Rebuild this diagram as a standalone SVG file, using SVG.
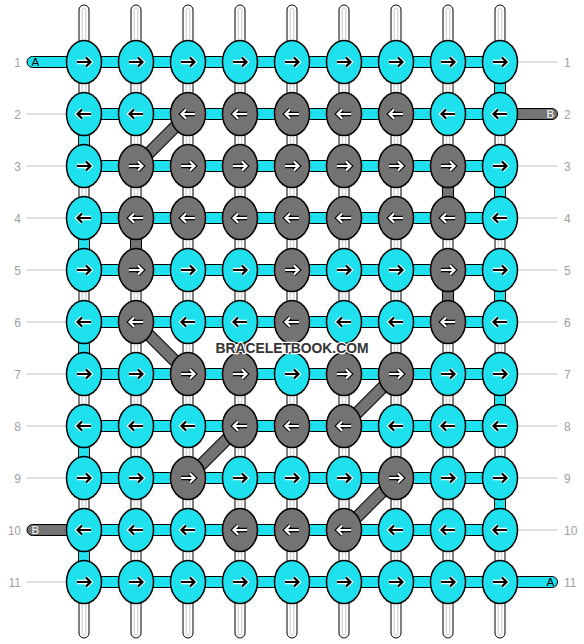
<svg xmlns="http://www.w3.org/2000/svg" xmlns:xlink="http://www.w3.org/1999/xlink" width="584" height="644" viewBox="0 0 584 644">
<style>
.rod{fill:#fff;stroke:#000;stroke-width:1}
.rodi{fill:none;stroke:#c8c8c8;stroke-width:1}
.hb{fill:#1ee1ed;stroke:#000;stroke-width:1}
.vc{fill:#1ee1ed;stroke:#000;stroke-width:1}
.vg{fill:#737373;stroke:#000;stroke-width:1}
.dgo{stroke:#000;stroke-width:12.5;fill:none}
.dgi{stroke:#737373;stroke-width:10.5;fill:none}
.kc{fill:#1ee1ed;stroke:#000;stroke-width:1.5}
.kg{fill:#737373;stroke:#000;stroke-width:1.5}
.lbl{font-family:"Liberation Sans",Arial,sans-serif;font-size:12px;fill:#a0a0a0}
.ln{stroke:#c4c4c4;stroke-width:1}
.tl{font-family:"Liberation Sans",Arial,sans-serif;font-size:11.5px}
.wm{font-family:"Liberation Sans",Arial,sans-serif;font-size:15px;font-weight:bold;fill:#333;stroke:#fff;stroke-width:2.5;paint-order:stroke;stroke-linejoin:round}
</style>
<defs>
<g id="rb"><path d="M-7,0H6M2,-4.5L6.5,0L2,4.5" fill="none" stroke="#fff" stroke-width="4.4"/><path d="M-7,0H6M2,-4.5L6.5,0L2,4.5" fill="none" stroke="#000" stroke-width="2.2"/></g>
<g id="lb"><path d="M7,0H-6M-2,-4.5L-6.5,0L-2,4.5" fill="none" stroke="#fff" stroke-width="4.4"/><path d="M7,0H-6M-2,-4.5L-6.5,0L-2,4.5" fill="none" stroke="#000" stroke-width="2.2"/></g>
<g id="rw"><path d="M-7,0H6M2,-4.5L6.5,0L2,4.5" fill="none" stroke="#000" stroke-width="4.4"/><path d="M-7,0H6M2,-4.5L6.5,0L2,4.5" fill="none" stroke="#fff" stroke-width="2.2"/></g>
<g id="lw"><path d="M7,0H-6M-2,-4.5L-6.5,0L-2,4.5" fill="none" stroke="#000" stroke-width="4.4"/><path d="M7,0H-6M-2,-4.5L-6.5,0L-2,4.5" fill="none" stroke="#fff" stroke-width="2.2"/></g>
<g id="rod"><rect class="rod" x="-5" y="5" width="10" height="633" rx="5"/><rect class="rodi" x="-1.8" y="8" width="3.6" height="627" rx="1.8"/></g>
</defs>
<rect width="584" height="644" fill="#fff"/>
<g id="labels">
<line class="ln" x1="26" y1="114" x2="66" y2="114"/><line class="ln" x1="26" y1="166" x2="66" y2="166"/><line class="ln" x1="26" y1="218" x2="66" y2="218"/><line class="ln" x1="26" y1="270" x2="66" y2="270"/><line class="ln" x1="26" y1="322" x2="66" y2="322"/><line class="ln" x1="26" y1="374" x2="66" y2="374"/><line class="ln" x1="26" y1="426" x2="66" y2="426"/><line class="ln" x1="26" y1="478" x2="66" y2="478"/><line class="ln" x1="26" y1="582" x2="66" y2="582"/>
<line class="ln" x1="518" y1="62" x2="558" y2="62"/><line class="ln" x1="518" y1="166" x2="558" y2="166"/><line class="ln" x1="518" y1="218" x2="558" y2="218"/><line class="ln" x1="518" y1="270" x2="558" y2="270"/><line class="ln" x1="518" y1="322" x2="558" y2="322"/><line class="ln" x1="518" y1="374" x2="558" y2="374"/><line class="ln" x1="518" y1="426" x2="558" y2="426"/><line class="ln" x1="518" y1="478" x2="558" y2="478"/><line class="ln" x1="518" y1="530" x2="558" y2="530"/>
<g class="lbl" text-anchor="end">
<text x="21" y="66.5">1</text><text x="21" y="118.5">2</text><text x="21" y="170.5">3</text><text x="21" y="222.5">4</text><text x="21" y="274.5">5</text><text x="21" y="326.5">6</text><text x="21" y="378.5">7</text><text x="21" y="430.5">8</text><text x="21" y="482.5">9</text><text x="21" y="534.5">10</text><text x="21" y="586.5">11</text>
</g>
<g class="lbl">
<text x="564" y="66.5">1</text><text x="564" y="118.5">2</text><text x="564" y="170.5">3</text><text x="564" y="222.5">4</text><text x="564" y="274.5">5</text><text x="564" y="326.5">6</text><text x="564" y="378.5">7</text><text x="564" y="430.5">8</text><text x="564" y="482.5">9</text><text x="564" y="534.5">10</text><text x="564" y="586.5">11</text>
</g>
</g>
<g id="strings">
<use href="#rod" x="84"/><use href="#rod" x="136"/><use href="#rod" x="188"/><use href="#rod" x="240"/><use href="#rod" x="292"/><use href="#rod" x="344"/><use href="#rod" x="396"/><use href="#rod" x="448"/><use href="#rod" x="500"/>
</g>
<g id="connectors">
<rect class="hb" x="84" y="56.5" width="416" height="11"/>
<rect class="hb" x="84" y="108.5" width="416" height="11"/>
<rect class="hb" x="84" y="160.5" width="416" height="11"/>
<rect class="hb" x="84" y="212.5" width="416" height="11"/>
<rect class="hb" x="84" y="264.5" width="416" height="11"/>
<rect class="hb" x="84" y="316.5" width="416" height="11"/>
<rect class="hb" x="84" y="368.5" width="416" height="11"/>
<rect class="hb" x="84" y="420.5" width="416" height="11"/>
<rect class="hb" x="84" y="472.5" width="416" height="11"/>
<rect class="hb" x="84" y="524.5" width="416" height="11"/>
<rect class="hb" x="84" y="576.5" width="416" height="11"/>
<rect class="vc" x="78.5" y="114" width="11" height="52"/>
<rect class="vc" x="78.5" y="218" width="11" height="52"/>
<rect class="vc" x="78.5" y="322" width="11" height="52"/>
<rect class="vc" x="78.5" y="426" width="11" height="52"/>
<rect class="vc" x="78.5" y="530" width="11" height="52"/>
<rect class="vc" x="494.5" y="62" width="11" height="52"/>
<rect class="vc" x="494.5" y="166" width="11" height="52"/>
<rect class="vc" x="494.5" y="270" width="11" height="52"/>
<rect class="vc" x="494.5" y="374" width="11" height="52"/>
<rect class="vc" x="494.5" y="478" width="11" height="52"/>
<rect class="vg" x="130.5" y="218" width="11" height="52"/>
<rect class="vg" x="442.5" y="166" width="11" height="52"/>
<rect class="vg" x="442.5" y="270" width="11" height="52"/>
<path class="dgo" d="M188,114L136,166M136,322L188,374M396,374L344,426M240,426L188,478M396,478L344,530"/>
<path class="dgi" d="M188,114L136,166M136,322L188,374M396,374L344,426M240,426L188,478M396,478L344,530"/>
<rect class="hb" x="27" y="56.5" width="70" height="11" rx="5.5"/>
<rect class="vg" x="487" y="108.5" width="70.5" height="11" rx="5.5"/>
<rect class="vg" x="27" y="524.5" width="70" height="11" rx="5.5"/>
<rect class="hb" x="487" y="576.5" width="70.5" height="11" rx="5.5"/>
<text class="tl" x="31.5" y="66.2" fill="#000">A</text>
<text class="tl" x="546.5" y="118.2" fill="#fff">B</text>
<text class="tl" x="31.5" y="534.2" fill="#fff">B</text>
<text class="tl" x="546.5" y="586.2" fill="#000">A</text>
</g>
<g id="knots">
<g id="k1-1"><ellipse class="kc" cx="84" cy="62" rx="17.5" ry="21.5"/><use href="#rb" x="84" y="62"/></g>
<g id="k1-2"><ellipse class="kc" cx="136" cy="62" rx="17.5" ry="21.5"/><use href="#rb" x="136" y="62"/></g>
<g id="k1-3"><ellipse class="kc" cx="188" cy="62" rx="17.5" ry="21.5"/><use href="#rb" x="188" y="62"/></g>
<g id="k1-4"><ellipse class="kc" cx="240" cy="62" rx="17.5" ry="21.5"/><use href="#rb" x="240" y="62"/></g>
<g id="k1-5"><ellipse class="kc" cx="292" cy="62" rx="17.5" ry="21.5"/><use href="#rb" x="292" y="62"/></g>
<g id="k1-6"><ellipse class="kc" cx="344" cy="62" rx="17.5" ry="21.5"/><use href="#rb" x="344" y="62"/></g>
<g id="k1-7"><ellipse class="kc" cx="396" cy="62" rx="17.5" ry="21.5"/><use href="#rb" x="396" y="62"/></g>
<g id="k1-8"><ellipse class="kc" cx="448" cy="62" rx="17.5" ry="21.5"/><use href="#rb" x="448" y="62"/></g>
<g id="k1-9"><ellipse class="kc" cx="500" cy="62" rx="17.5" ry="21.5"/><use href="#rb" x="500" y="62"/></g>

<g id="k2-1"><ellipse class="kc" cx="84" cy="114" rx="17.5" ry="21.5"/><use href="#lb" x="84" y="114"/></g>
<g id="k2-2"><ellipse class="kc" cx="136" cy="114" rx="17.5" ry="21.5"/><use href="#lb" x="136" y="114"/></g>
<g id="k2-3"><ellipse class="kg" cx="188" cy="114" rx="17.5" ry="21.5"/><use href="#lw" x="188" y="114"/></g>
<g id="k2-4"><ellipse class="kg" cx="240" cy="114" rx="17.5" ry="21.5"/><use href="#lw" x="240" y="114"/></g>
<g id="k2-5"><ellipse class="kg" cx="292" cy="114" rx="17.5" ry="21.5"/><use href="#lw" x="292" y="114"/></g>
<g id="k2-6"><ellipse class="kg" cx="344" cy="114" rx="17.5" ry="21.5"/><use href="#lw" x="344" y="114"/></g>
<g id="k2-7"><ellipse class="kg" cx="396" cy="114" rx="17.5" ry="21.5"/><use href="#lw" x="396" y="114"/></g>
<g id="k2-8"><ellipse class="kc" cx="448" cy="114" rx="17.5" ry="21.5"/><use href="#lb" x="448" y="114"/></g>
<g id="k2-9"><ellipse class="kc" cx="500" cy="114" rx="17.5" ry="21.5"/><use href="#lb" x="500" y="114"/></g>

<g id="k3-1"><ellipse class="kc" cx="84" cy="166" rx="17.5" ry="21.5"/><use href="#rb" x="84" y="166"/></g>
<g id="k3-2"><ellipse class="kg" cx="136" cy="166" rx="17.5" ry="21.5"/><use href="#rw" x="136" y="166"/></g>
<g id="k3-3"><ellipse class="kg" cx="188" cy="166" rx="17.5" ry="21.5"/><use href="#rw" x="188" y="166"/></g>
<g id="k3-4"><ellipse class="kg" cx="240" cy="166" rx="17.5" ry="21.5"/><use href="#rw" x="240" y="166"/></g>
<g id="k3-5"><ellipse class="kg" cx="292" cy="166" rx="17.5" ry="21.5"/><use href="#rw" x="292" y="166"/></g>
<g id="k3-6"><ellipse class="kg" cx="344" cy="166" rx="17.5" ry="21.5"/><use href="#rw" x="344" y="166"/></g>
<g id="k3-7"><ellipse class="kg" cx="396" cy="166" rx="17.5" ry="21.5"/><use href="#rw" x="396" y="166"/></g>
<g id="k3-8"><ellipse class="kg" cx="448" cy="166" rx="17.5" ry="21.5"/><use href="#rw" x="448" y="166"/></g>
<g id="k3-9"><ellipse class="kc" cx="500" cy="166" rx="17.5" ry="21.5"/><use href="#rb" x="500" y="166"/></g>

<g id="k4-1"><ellipse class="kc" cx="84" cy="218" rx="17.5" ry="21.5"/><use href="#lb" x="84" y="218"/></g>
<g id="k4-2"><ellipse class="kg" cx="136" cy="218" rx="17.5" ry="21.5"/><use href="#lw" x="136" y="218"/></g>
<g id="k4-3"><ellipse class="kg" cx="188" cy="218" rx="17.5" ry="21.5"/><use href="#lw" x="188" y="218"/></g>
<g id="k4-4"><ellipse class="kg" cx="240" cy="218" rx="17.5" ry="21.5"/><use href="#lw" x="240" y="218"/></g>
<g id="k4-5"><ellipse class="kg" cx="292" cy="218" rx="17.5" ry="21.5"/><use href="#lw" x="292" y="218"/></g>
<g id="k4-6"><ellipse class="kg" cx="344" cy="218" rx="17.5" ry="21.5"/><use href="#lw" x="344" y="218"/></g>
<g id="k4-7"><ellipse class="kg" cx="396" cy="218" rx="17.5" ry="21.5"/><use href="#lw" x="396" y="218"/></g>
<g id="k4-8"><ellipse class="kg" cx="448" cy="218" rx="17.5" ry="21.5"/><use href="#lw" x="448" y="218"/></g>
<g id="k4-9"><ellipse class="kc" cx="500" cy="218" rx="17.5" ry="21.5"/><use href="#lb" x="500" y="218"/></g>

<g id="k5-1"><ellipse class="kc" cx="84" cy="270" rx="17.5" ry="21.5"/><use href="#rb" x="84" y="270"/></g>
<g id="k5-2"><ellipse class="kg" cx="136" cy="270" rx="17.5" ry="21.5"/><use href="#rw" x="136" y="270"/></g>
<g id="k5-3"><ellipse class="kc" cx="188" cy="270" rx="17.5" ry="21.5"/><use href="#rb" x="188" y="270"/></g>
<g id="k5-4"><ellipse class="kc" cx="240" cy="270" rx="17.5" ry="21.5"/><use href="#rb" x="240" y="270"/></g>
<g id="k5-5"><ellipse class="kg" cx="292" cy="270" rx="17.5" ry="21.5"/><use href="#rw" x="292" y="270"/></g>
<g id="k5-6"><ellipse class="kc" cx="344" cy="270" rx="17.5" ry="21.5"/><use href="#rb" x="344" y="270"/></g>
<g id="k5-7"><ellipse class="kc" cx="396" cy="270" rx="17.5" ry="21.5"/><use href="#rb" x="396" y="270"/></g>
<g id="k5-8"><ellipse class="kg" cx="448" cy="270" rx="17.5" ry="21.5"/><use href="#rw" x="448" y="270"/></g>
<g id="k5-9"><ellipse class="kc" cx="500" cy="270" rx="17.5" ry="21.5"/><use href="#rb" x="500" y="270"/></g>

<g id="k6-1"><ellipse class="kc" cx="84" cy="322" rx="17.5" ry="21.5"/><use href="#lb" x="84" y="322"/></g>
<g id="k6-2"><ellipse class="kg" cx="136" cy="322" rx="17.5" ry="21.5"/><use href="#lw" x="136" y="322"/></g>
<g id="k6-3"><ellipse class="kc" cx="188" cy="322" rx="17.5" ry="21.5"/><use href="#lb" x="188" y="322"/></g>
<g id="k6-4"><ellipse class="kc" cx="240" cy="322" rx="17.5" ry="21.5"/><use href="#lb" x="240" y="322"/></g>
<g id="k6-5"><ellipse class="kg" cx="292" cy="322" rx="17.5" ry="21.5"/><use href="#lw" x="292" y="322"/></g>
<g id="k6-6"><ellipse class="kc" cx="344" cy="322" rx="17.5" ry="21.5"/><use href="#lb" x="344" y="322"/></g>
<g id="k6-7"><ellipse class="kc" cx="396" cy="322" rx="17.5" ry="21.5"/><use href="#lb" x="396" y="322"/></g>
<g id="k6-8"><ellipse class="kg" cx="448" cy="322" rx="17.5" ry="21.5"/><use href="#lw" x="448" y="322"/></g>
<g id="k6-9"><ellipse class="kc" cx="500" cy="322" rx="17.5" ry="21.5"/><use href="#lb" x="500" y="322"/></g>

<g id="k7-1"><ellipse class="kc" cx="84" cy="374" rx="17.5" ry="21.5"/><use href="#rb" x="84" y="374"/></g>
<g id="k7-2"><ellipse class="kc" cx="136" cy="374" rx="17.5" ry="21.5"/><use href="#rb" x="136" y="374"/></g>
<g id="k7-3"><ellipse class="kg" cx="188" cy="374" rx="17.5" ry="21.5"/><use href="#rw" x="188" y="374"/></g>
<g id="k7-4"><ellipse class="kg" cx="240" cy="374" rx="17.5" ry="21.5"/><use href="#rw" x="240" y="374"/></g>
<g id="k7-5"><ellipse class="kc" cx="292" cy="374" rx="17.5" ry="21.5"/><use href="#rb" x="292" y="374"/></g>
<g id="k7-6"><ellipse class="kg" cx="344" cy="374" rx="17.5" ry="21.5"/><use href="#rw" x="344" y="374"/></g>
<g id="k7-7"><ellipse class="kg" cx="396" cy="374" rx="17.5" ry="21.5"/><use href="#rw" x="396" y="374"/></g>
<g id="k7-8"><ellipse class="kc" cx="448" cy="374" rx="17.5" ry="21.5"/><use href="#rb" x="448" y="374"/></g>
<g id="k7-9"><ellipse class="kc" cx="500" cy="374" rx="17.5" ry="21.5"/><use href="#rb" x="500" y="374"/></g>

<g id="k8-1"><ellipse class="kc" cx="84" cy="426" rx="17.5" ry="21.5"/><use href="#lb" x="84" y="426"/></g>
<g id="k8-2"><ellipse class="kc" cx="136" cy="426" rx="17.5" ry="21.5"/><use href="#lb" x="136" y="426"/></g>
<g id="k8-3"><ellipse class="kc" cx="188" cy="426" rx="17.5" ry="21.5"/><use href="#lb" x="188" y="426"/></g>
<g id="k8-4"><ellipse class="kg" cx="240" cy="426" rx="17.5" ry="21.5"/><use href="#lw" x="240" y="426"/></g>
<g id="k8-5"><ellipse class="kg" cx="292" cy="426" rx="17.5" ry="21.5"/><use href="#lw" x="292" y="426"/></g>
<g id="k8-6"><ellipse class="kg" cx="344" cy="426" rx="17.5" ry="21.5"/><use href="#lw" x="344" y="426"/></g>
<g id="k8-7"><ellipse class="kc" cx="396" cy="426" rx="17.5" ry="21.5"/><use href="#lb" x="396" y="426"/></g>
<g id="k8-8"><ellipse class="kc" cx="448" cy="426" rx="17.5" ry="21.5"/><use href="#lb" x="448" y="426"/></g>
<g id="k8-9"><ellipse class="kc" cx="500" cy="426" rx="17.5" ry="21.5"/><use href="#lb" x="500" y="426"/></g>

<g id="k9-1"><ellipse class="kc" cx="84" cy="478" rx="17.5" ry="21.5"/><use href="#rb" x="84" y="478"/></g>
<g id="k9-2"><ellipse class="kc" cx="136" cy="478" rx="17.5" ry="21.5"/><use href="#rb" x="136" y="478"/></g>
<g id="k9-3"><ellipse class="kg" cx="188" cy="478" rx="17.5" ry="21.5"/><use href="#rw" x="188" y="478"/></g>
<g id="k9-4"><ellipse class="kc" cx="240" cy="478" rx="17.5" ry="21.5"/><use href="#rb" x="240" y="478"/></g>
<g id="k9-5"><ellipse class="kc" cx="292" cy="478" rx="17.5" ry="21.5"/><use href="#rb" x="292" y="478"/></g>
<g id="k9-6"><ellipse class="kc" cx="344" cy="478" rx="17.5" ry="21.5"/><use href="#rb" x="344" y="478"/></g>
<g id="k9-7"><ellipse class="kg" cx="396" cy="478" rx="17.5" ry="21.5"/><use href="#rw" x="396" y="478"/></g>
<g id="k9-8"><ellipse class="kc" cx="448" cy="478" rx="17.5" ry="21.5"/><use href="#rb" x="448" y="478"/></g>
<g id="k9-9"><ellipse class="kc" cx="500" cy="478" rx="17.5" ry="21.5"/><use href="#rb" x="500" y="478"/></g>

<g id="k10-1"><ellipse class="kc" cx="84" cy="530" rx="17.5" ry="21.5"/><use href="#lb" x="84" y="530"/></g>
<g id="k10-2"><ellipse class="kc" cx="136" cy="530" rx="17.5" ry="21.5"/><use href="#lb" x="136" y="530"/></g>
<g id="k10-3"><ellipse class="kc" cx="188" cy="530" rx="17.5" ry="21.5"/><use href="#lb" x="188" y="530"/></g>
<g id="k10-4"><ellipse class="kg" cx="240" cy="530" rx="17.5" ry="21.5"/><use href="#lw" x="240" y="530"/></g>
<g id="k10-5"><ellipse class="kg" cx="292" cy="530" rx="17.5" ry="21.5"/><use href="#lw" x="292" y="530"/></g>
<g id="k10-6"><ellipse class="kg" cx="344" cy="530" rx="17.5" ry="21.5"/><use href="#lw" x="344" y="530"/></g>
<g id="k10-7"><ellipse class="kc" cx="396" cy="530" rx="17.5" ry="21.5"/><use href="#lb" x="396" y="530"/></g>
<g id="k10-8"><ellipse class="kc" cx="448" cy="530" rx="17.5" ry="21.5"/><use href="#lb" x="448" y="530"/></g>
<g id="k10-9"><ellipse class="kc" cx="500" cy="530" rx="17.5" ry="21.5"/><use href="#lb" x="500" y="530"/></g>

<g id="k11-1"><ellipse class="kc" cx="84" cy="582" rx="17.5" ry="21.5"/><use href="#rb" x="84" y="582"/></g>
<g id="k11-2"><ellipse class="kc" cx="136" cy="582" rx="17.5" ry="21.5"/><use href="#rb" x="136" y="582"/></g>
<g id="k11-3"><ellipse class="kc" cx="188" cy="582" rx="17.5" ry="21.5"/><use href="#rb" x="188" y="582"/></g>
<g id="k11-4"><ellipse class="kc" cx="240" cy="582" rx="17.5" ry="21.5"/><use href="#rb" x="240" y="582"/></g>
<g id="k11-5"><ellipse class="kc" cx="292" cy="582" rx="17.5" ry="21.5"/><use href="#rb" x="292" y="582"/></g>
<g id="k11-6"><ellipse class="kc" cx="344" cy="582" rx="17.5" ry="21.5"/><use href="#rb" x="344" y="582"/></g>
<g id="k11-7"><ellipse class="kc" cx="396" cy="582" rx="17.5" ry="21.5"/><use href="#rb" x="396" y="582"/></g>
<g id="k11-8"><ellipse class="kc" cx="448" cy="582" rx="17.5" ry="21.5"/><use href="#rb" x="448" y="582"/></g>
<g id="k11-9"><ellipse class="kc" cx="500" cy="582" rx="17.5" ry="21.5"/><use href="#rb" x="500" y="582"/></g>
</g>
<text class="wm" x="292" y="353" text-anchor="middle" textLength="153" lengthAdjust="spacingAndGlyphs">BRACELETBOOK.COM</text>
</svg>
